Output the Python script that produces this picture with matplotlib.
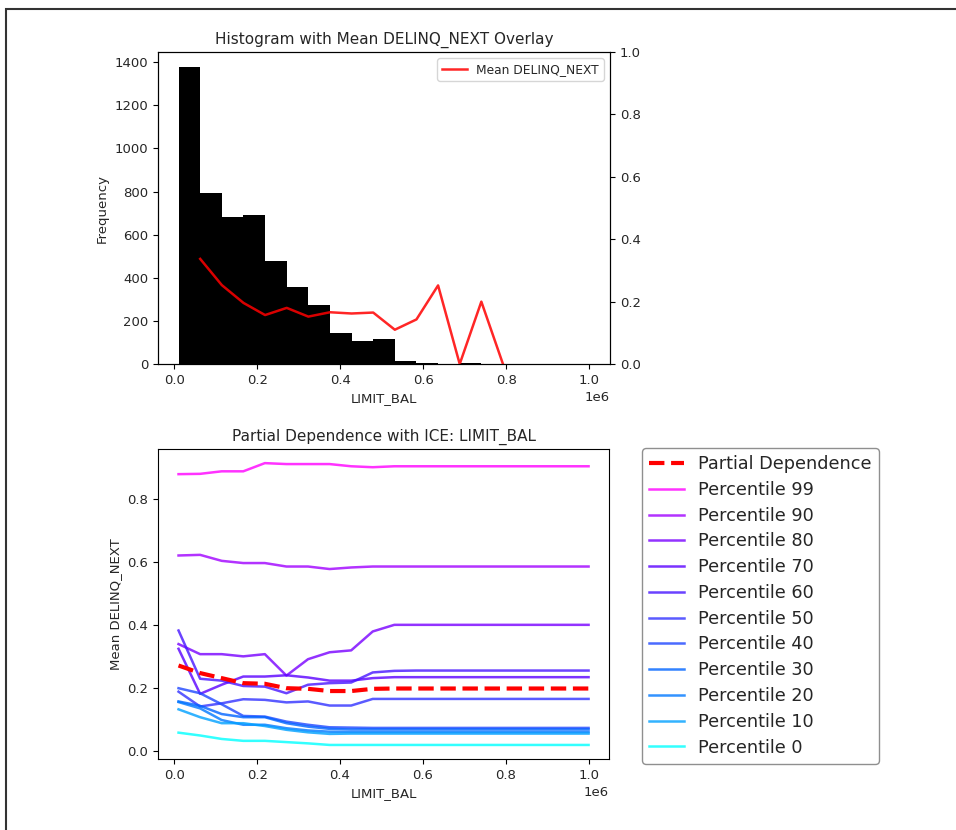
import numpy as np
import matplotlib
matplotlib.use("Agg")
import matplotlib.pyplot as plt
from matplotlib.patches import Rectangle

# grid of LIMIT_BAL values (also the histogram bin edges)
limit_grid = [10000, 62105, 114211, 166316, 218421, 270526, 322632, 374737, 426842, 478947,
              531053, 583158, 635263, 687368, 739474, 791579, 843684, 895789, 947895, 1000000]

# histogram counts per bin
hist_counts = [1378, 795, 684, 689, 479, 355, 272, 142, 106, 117, 12, 6, 2, 5, 0, 0, 0, 0, 1]

# mean DELINQ_NEXT per bin (plotted at the right bin edge)
mean_x = limit_grid[1:16]
mean_delinq = [0.337, 0.253, 0.196, 0.157, 0.180, 0.152, 0.166, 0.162, 0.165, 0.110, 0.143, 0.252, 0.0, 0.200, 0.0]

# partial dependence
pd_vals = [0.271, 0.247, 0.231, 0.215, 0.213, 0.199, 0.197, 0.190, 0.190, 0.197,
           0.198, 0.198, 0.198, 0.198, 0.198, 0.198, 0.198, 0.198, 0.198, 0.198]

# ICE curves by percentile
ice_labels = ['Percentile 99', 'Percentile 90', 'Percentile 80', 'Percentile 70', 'Percentile 60',
              'Percentile 50', 'Percentile 40', 'Percentile 30', 'Percentile 20', 'Percentile 10',
              'Percentile 0']
ice_p99 = [0.878, 0.879, 0.887, 0.887, 0.913, 0.910, 0.910, 0.910, 0.903, 0.900,
           0.903, 0.903, 0.903, 0.903, 0.903, 0.903, 0.903, 0.903, 0.903, 0.903]
ice_p90 = [0.620, 0.622, 0.603, 0.596, 0.596, 0.585, 0.585, 0.577, 0.582, 0.585,
           0.585, 0.585, 0.585, 0.585, 0.585, 0.585, 0.585, 0.585, 0.585, 0.585]
ice_p80 = [0.339, 0.307, 0.307, 0.300, 0.307, 0.239, 0.291, 0.313, 0.319, 0.379,
           0.400, 0.400, 0.400, 0.400, 0.400, 0.400, 0.400, 0.400, 0.400, 0.400]
ice_p70 = [0.324, 0.181, 0.210, 0.236, 0.236, 0.240, 0.233, 0.223, 0.223, 0.231,
           0.234, 0.234, 0.234, 0.234, 0.234, 0.234, 0.234, 0.234, 0.234, 0.234]
ice_p60 = [0.382, 0.229, 0.223, 0.206, 0.204, 0.183, 0.210, 0.215, 0.217, 0.249,
           0.254, 0.255, 0.255, 0.255, 0.255, 0.255, 0.255, 0.255, 0.255, 0.255]
ice_p50 = [0.188, 0.141, 0.151, 0.164, 0.162, 0.154, 0.157, 0.144, 0.144, 0.165,
           0.165, 0.165, 0.165, 0.165, 0.165, 0.165, 0.165, 0.165, 0.165, 0.165]
ice_p40 = [0.199, 0.183, 0.148, 0.111, 0.109, 0.093, 0.083, 0.075, 0.074, 0.073,
           0.073, 0.073, 0.073, 0.073, 0.073, 0.073, 0.073, 0.073, 0.073, 0.073]
ice_p30 = [0.157, 0.143, 0.117, 0.107, 0.107, 0.088, 0.077, 0.070, 0.068, 0.068,
           0.068, 0.068, 0.068, 0.068, 0.068, 0.068, 0.068, 0.068, 0.068, 0.068]
ice_p20 = [0.155, 0.135, 0.098, 0.083, 0.083, 0.072, 0.065, 0.061, 0.060, 0.060,
           0.060, 0.060, 0.060, 0.060, 0.060, 0.060, 0.060, 0.060, 0.060, 0.060]
ice_p10 = [0.132, 0.107, 0.088, 0.088, 0.079, 0.067, 0.059, 0.054, 0.055, 0.055,
           0.055, 0.055, 0.055, 0.055, 0.055, 0.055, 0.055, 0.055, 0.055, 0.055]
ice_p0 = [0.058, 0.049, 0.038, 0.032, 0.032, 0.028, 0.024, 0.019, 0.019, 0.019,
          0.019, 0.019, 0.019, 0.019, 0.019, 0.019, 0.019, 0.019, 0.019, 0.019]
ice_curves = [ice_p99, ice_p90, ice_p80, ice_p70, ice_p60, ice_p50,
              ice_p40, ice_p30, ice_p20, ice_p10, ice_p0]
ice_colors = ['#ff00ff', '#a000ff', '#7800ff', '#5a00ff', '#4614ff', '#3232ff',
              '#1e46ff', '#0064ff', '#0078ff', '#00a0ff', '#00ffff']

plt.rcParams['text.color'] = '#262626'
plt.rcParams['axes.labelcolor'] = '#262626'
plt.rcParams['xtick.labelcolor'] = '#262626'
plt.rcParams['ytick.labelcolor'] = '#262626'

fig = plt.figure(figsize=(9.56, 8.3), dpi=100)

# frame of the screenshot
fig.patches.append(Rectangle((0.006, -0.05), 1.2, 0.04 + 0.9997, transform=fig.transFigure,
                             fill=False, edgecolor='#333333', lw=1.5))

# ---- histogram with mean overlay ----
ax1 = fig.add_axes([0.1653, 0.5614, 0.4728, 0.3759])
ax1.hist(limit_grid[:-1], bins=limit_grid, weights=hist_counts, color='black')
ax1.set_xlabel('LIMIT_BAL', fontsize=9.5)
ax1.set_ylabel('Frequency', fontsize=9.5)
ax1.set_title('Histogram with Mean DELINQ_NEXT Overlay', fontsize=11)
ax1.tick_params(labelsize=9.5)
ax1.xaxis.get_offset_text().set_fontsize(9.5)

ax1b = ax1.twinx()
ax1b.plot(mean_x, mean_delinq, color='red', alpha=0.85, lw=1.8, label='Mean DELINQ_NEXT')
ax1b.set_ylim(0, 1)
ax1b.tick_params(labelsize=9.5)
ax1b.legend(loc='upper right', fontsize=8.8)

# ---- partial dependence with ICE ----
ax2 = fig.add_axes([0.1653, 0.0855, 0.4718, 0.3735])
ax2.plot(limit_grid, pd_vals, color='red', ls='--', lw=3, label='Partial Dependence', zorder=5)
for vals, lab, col in zip(ice_curves, ice_labels, ice_colors):
    ax2.plot(limit_grid, vals, color=col, alpha=0.8, lw=1.8, label=lab)
ax2.set_xlabel('LIMIT_BAL', fontsize=9.5)
ax2.set_ylabel('Mean DELINQ_NEXT', fontsize=9.5)
ax2.set_title('Partial Dependence with ICE: LIMIT_BAL', fontsize=11)
ax2.tick_params(labelsize=9.5)
ax2.xaxis.get_offset_text().set_fontsize(9.5)
leg = ax2.legend(loc='upper left', bbox_to_anchor=(1.073, 1.003), borderaxespad=0,
                 fontsize=12.7, labelspacing=0.44, edgecolor='0.45')

fig.savefig('out.png', dpi=100)
